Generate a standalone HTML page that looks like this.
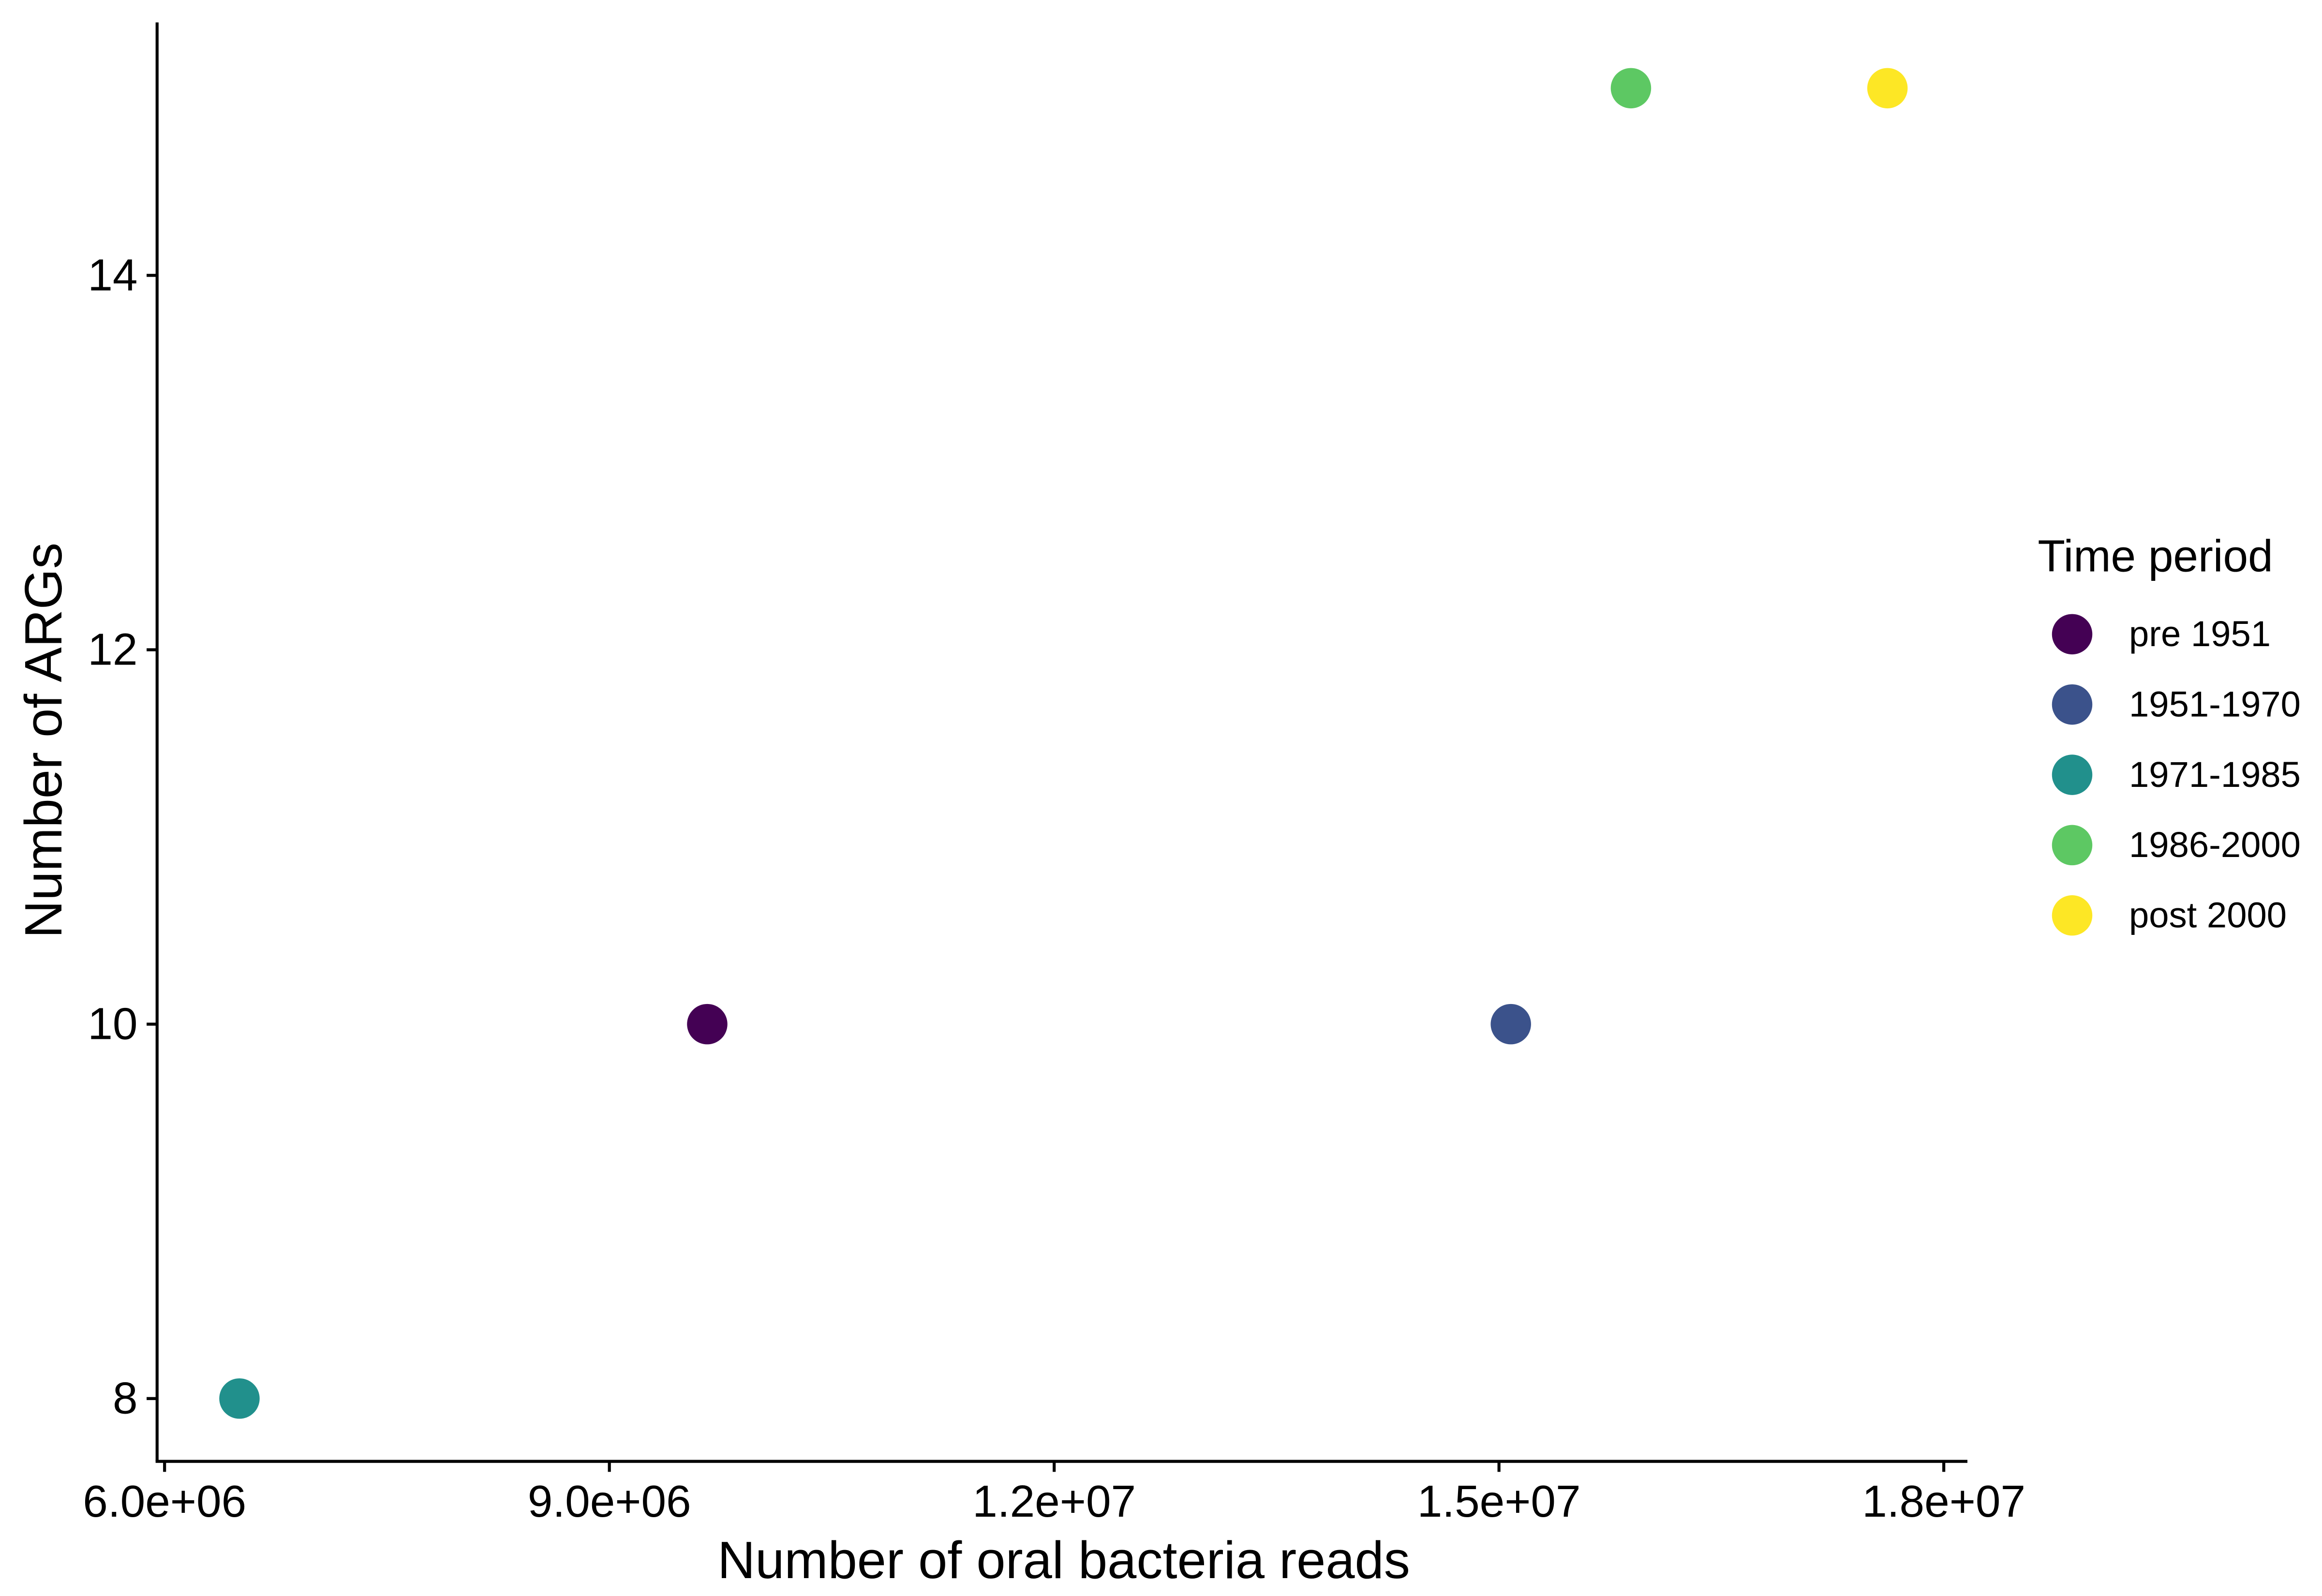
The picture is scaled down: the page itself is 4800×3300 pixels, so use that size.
<!DOCTYPE html>
<html><head><meta charset="utf-8"><style>
html,body{margin:0;padding:0;background:#fff;}
svg{display:block;font-family:"Liberation Sans",Arial,sans-serif;}
</style></head><body>
<svg id="chart" width="4800" height="3300" viewBox="0 0 1552 1067" xmlns="http://www.w3.org/2000/svg"></svg>
<script>
const categories = ["pre 1951","1951-1970","1971-1985","1986-2000","post 2000"];
const readsValues = [9.66e6, 15.08e6, 6.505e6, 15.89e6, 17.62e6];
const argValues = [10, 10, 8, 15, 15];
const colors = ["#440154","#3B528B","#21908C","#5DC863","#FDE725"];
const xTicks = [6e6, 9e6, 12e6, 15e6, 18e6];
const xTickLabels = ["6.0e+06","9.0e+06","1.2e+07","1.5e+07","1.8e+07"];
const yTicks = [8, 10, 12, 14];
const yTickLabels = ["8","10","12","14"];

const NS = "http://www.w3.org/2000/svg";
const svg = document.getElementById("chart");
function xs(v){ return 110 + (v - 6e6) / 3e6 * 297.3; }
function ys(v){ return 935 - (v - 8) / 2 * 250.3; }
function mk(tag, attrs, parent){
  const e = document.createElementNS(NS, tag);
  for (const k in attrs) e.setAttribute(k, attrs[k]);
  (parent || svg).appendChild(e);
  return e;
}
let yAxis = mk("line",{x1:105,y1:15,x2:105,y2:977,stroke:"#000","stroke-width":2});


let xAxis = mk("line",{x1:104,y1:977,x2:1315,y2:977,stroke:"#000","stroke-width":2});



xTicks.forEach((t,i)=>{
  const x = xs(t);
  const tk = mk("line",{x1:x,y1:977,x2:x,y2:984,stroke:"#000","stroke-width":2});
  
  
  const tx = mk("text",{x:x,y:1014,"text-anchor":"middle","font-size":30,fill:"#000"});
  tx.textContent = xTickLabels[i];
  
  
});
yTicks.forEach((t,i)=>{
  const y = ys(t);
  const tk = mk("line",{x1:98,y1:y,x2:105,y2:y,stroke:"#000","stroke-width":2});
  
  
  const tx = mk("text",{x:92,y:y+10,"text-anchor":"end","font-size":30,fill:"#000"});
  tx.textContent = yTickLabels[i];
  
  
});
let xt = mk("text",{x:711,y:1055,"text-anchor":"middle","font-size":35,fill:"#000"});
xt.textContent = "Number of oral bacteria reads";


let yt = mk("text",{x:0,y:0,"text-anchor":"middle","font-size":35,fill:"#000",transform:"translate(41,495) rotate(-90)"});
yt.textContent = "Number of ARGs";



categories.forEach((c,i)=>{
  const p = mk("circle",{cx:xs(readsValues[i]),cy:ys(argValues[i]),r:13.5,fill:colors[i]});
  
  
});

let lt = mk("text",{x:1362,y:382,"font-size":30,fill:"#000"});
lt.textContent = "Time period";


categories.forEach((c,i)=>{
  const y = 424 + i*47;
  const g = mk("g",{});
  
  
  const k = mk("circle",{cx:1385,cy:y,r:13.5,fill:colors[i]},g);
  
  
  const t = mk("text",{x:1423,y:y+8,"font-size":24,fill:"#000"},g);
  t.textContent = c;
  
  
});
</script>
</body></html>
